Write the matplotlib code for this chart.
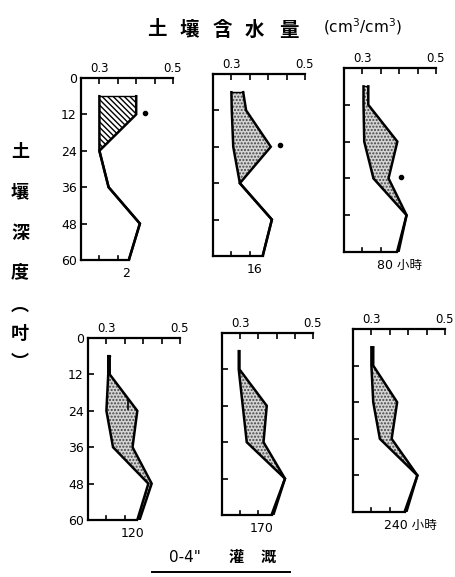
import numpy as np
import matplotlib.pyplot as plt

plt.rcParams['font.family'] = ['DejaVu Sans', 'Noto Sans CJK JP']

# depth (inches) of the profile break points
depth = [6, 12, 24, 36, 48, 60]

# soil water content (cm3/cm3), left = before, right = after irrigation
hours = ['2', '16', '80 小時', '120', '170', '240 小時']
left_vals = [
    [0.300, 0.300, 0.300, 0.325, 0.410, 0.380],
    [0.300, 0.301, 0.305, 0.323, 0.410, 0.385],
    [0.303, 0.303, 0.305, 0.330, 0.420, 0.394],
    [0.305, 0.305, 0.300, 0.318, 0.414, 0.384],
    [0.296, 0.296, 0.307, 0.318, 0.423, 0.386],
    [0.300, 0.300, 0.305, 0.323, 0.425, 0.390],
]
right_vals = [
    [0.400, 0.400, 0.300, 0.325, 0.410, 0.380],
    [0.332, 0.340, 0.407, 0.323, 0.410, 0.385],
    [0.316, 0.316, 0.395, 0.371, 0.420, 0.398],
    [0.309, 0.309, 0.384, 0.371, 0.423, 0.390],
    [0.298, 0.298, 0.373, 0.364, 0.423, 0.391],
    [0.305, 0.305, 0.370, 0.355, 0.425, 0.395],
]
dot_x = [0.425, 0.432, 0.405, None, None, None]
dot_y = [11.5, 23.4, 35.7, None, None, None]
label_x = [0.372, 0.364, 0.402, 0.372, 0.360, 0.405]

# panel boxes in pixels: left spine x, x at 0.5, top y, bottom y
boxes = [
    (81, 173, 78, 260),
    (213, 305, 74, 256),
    (344, 436, 68, 252),
    (88, 180, 338, 520),
    (222, 313, 333, 515),
    (353, 445, 329, 512),
]
W, H = 456, 577

fig = plt.figure(figsize=(W / 100, H / 100), dpi=100)

for i in range(6):
    x0, x1, y0, y1 = boxes[i]
    ax = fig.add_axes([x0 / W, 1 - y1 / H, (x1 - x0) / W, (y1 - y0) / H])
    ax.set_xlim(0.25, 0.5)
    ax.set_ylim(60, 0)
    for s in ['right', 'bottom']:
        ax.spines[s].set_visible(False)
    ax.spines['top'].set_linewidth(1.6)
    ax.spines['left'].set_linewidth(1.6)

    ax.xaxis.tick_top()
    ax.set_xticks([0.3, 0.35, 0.4, 0.45, 0.5])
    ax.set_xticklabels(['0.3', '', '', '', '0.5'])
    ax.tick_params(axis='x', direction='in', length=4, width=1.2, pad=2, labelsize=8.5)
    ax.set_yticks([0, 12, 24, 36, 48, 60])
    if i in (0, 3):
        ax.set_yticklabels(['0', '12', '24', '36', '48', '60'])
    else:
        ax.set_yticklabels([])
    ax.tick_params(axis='y', direction='in', length=4, width=1.2, pad=3, labelsize=9)

    l = left_vals[i]
    r = right_vals[i]
    if i == 0:
        ax.fill_betweenx(depth, l, r, facecolor='white', edgecolor='black',
                         hatch='\\\\\\\\\\\\', linewidth=0)
    else:
        ax.fill_betweenx(depth, l, r, facecolor='#d4d4d4', edgecolor='#444444',
                         hatch='.....', linewidth=0)
    ax.plot(l, depth, color='black', lw=1.8, solid_joinstyle='miter')
    ax.plot(r, depth, color='black', lw=1.8, solid_joinstyle='miter')
    ax.plot([l[0], r[0]], [depth[0], depth[0]], color='black', lw=1.0)

    # bottom line closes the profile
    ax.plot([0.25, l[-1]], [60, 60], color='black', lw=1.6, clip_on=False)
    for t in [0.3, 0.35]:
        if t < l[-1]:
            ax.plot([t, t], [60, 58.7], color='black', lw=1.2, clip_on=False)

    if dot_x[i] is not None:
        ax.plot(dot_x[i], dot_y[i], 'o', color='black', markersize=3)
    if i == 3:
        ax.plot([0.36, 0.36], [20.5, 23.5], color='black', lw=1.2)

    ax.text(label_x[i], 64.5, hours[i], ha='center', va='center',
            fontsize=9, family=['DejaVu Sans', 'Noto Sans CJK JP'])

title_chars = ['土', '壤', '含', '水', '量']
title_x = [157, 189, 222, 254, 289]
for ch, xx in zip(title_chars, title_x):
    fig.text(xx / W, 1 - 30 / H, ch, ha='center', va='center', fontsize=14,
             family='Noto Sans CJK JP', weight='bold')
fig.text(362 / W, 1 - 27 / H, '(cm$^3$/cm$^3$)', ha='center', va='center', fontsize=11)

side = ['土', '壤', '深', '度', '︵', '吋', '︶']
side_y = [152, 192, 234, 272, 305, 333, 362]
for ch, yy in zip(side, side_y):
    fig.text(20 / W, 1 - yy / H, ch, ha='center', va='center', fontsize=13,
             family='Noto Sans CJK JP', weight='bold')

fig.text(185 / W, 1 - 557 / H, '0-4"', ha='center', va='center', fontsize=11)
fig.text(236 / W, 1 - 557 / H, '灌', ha='center', va='center', fontsize=11,
         family='Noto Sans CJK JP', weight='bold')
fig.text(268 / W, 1 - 557 / H, '溉', ha='center', va='center', fontsize=11,
         family='Noto Sans CJK JP', weight='bold')
fig.add_artist(plt.Line2D([152 / W, 290 / W], [1 - 572 / H, 1 - 572 / H],
                          color='black', lw=1.4))

fig.savefig('out.png', dpi=100)
